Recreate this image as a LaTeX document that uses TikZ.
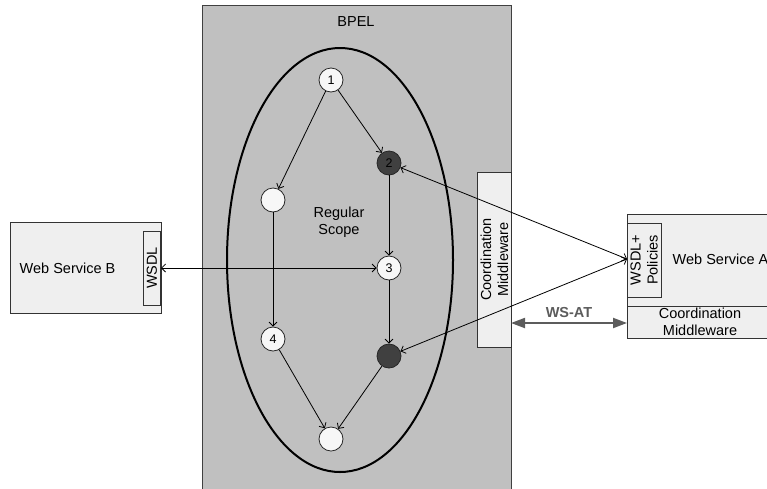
\documentclass[tikz,border=0pt]{standalone}
\usepackage{fontspec}
\setmainfont{Liberation Sans}
\usetikzlibrary{arrows.meta}
\definecolor{bpelgrey}{HTML}{C0C0C0}
\definecolor{boxgrey}{HTML}{EFEFEF}
\definecolor{actdark}{HTML}{404040}
\definecolor{atgrey}{HTML}{5C5C5C}
\begin{document}
\begin{tikzpicture}[x=1pt, y=-1pt, line width=0.8pt, font=\fontsize{14.5}{17}\selectfont,
  act/.style={circle, draw=black!85, fill=white!97!black, minimum size=24pt, inner sep=0pt, font=\fontsize{12.5}{14}\selectfont},
  darkact/.style={act, fill=actdark},
  flow/.style={-{Straight Barb[length=4pt,width=8pt]}},
  msg/.style={{Straight Barb[length=4pt,width=8pt]}-{Straight Barb[length=4pt,width=8pt]}},
  panel/.style={draw=black!80, fill=boxgrey, inner sep=0pt, align=center}]
\clip (0,0) rectangle (767,488);
% process and scope
\draw[fill=bpelgrey, draw=black!75] (202,5) rectangle (511,495);
\node (bpel) at (356,22) {BPEL};
\draw[line width=2pt] (340,260) ellipse [x radius=113pt, y radius=212pt];
\node[align=center] (scope) at (339,222) {Regular\\Scope};
\node[panel, rotate=90, minimum width=175pt, minimum height=34pt] (cm) at (494.5,259.5) {Coordination\\Middleware};
% activities
\node[act] (act1) at (331,80) {1};
\node[darkact] (act2) at (389,163) {2};
\node[act] (actL) at (273,200) {};
\node[act] (act3) at (389,268) {3};
\node[act] (act4) at (273,339) {4};
\node[darkact] (actD) at (389,356) {};
\node[act] (actE) at (331,439) {};
% web service B
\node[panel, minimum width=151pt, minimum height=91pt] (wsb) at (85.5,267.5) {};
\node[anchor=west] (wsbtext) at (16,268) {Web Service B};
\node[panel, rotate=90, minimum width=74pt, minimum height=17pt] (wsdlb) at (152,268) {WSDL};
% web service A
\node[panel, minimum width=146pt, minimum height=92pt] (wsa) at (700,260) {};
\node[panel, minimum width=146pt, minimum height=32pt] (cma) at (700,322) {Coordination\\Middleware};
\node[panel, rotate=90, minimum width=74pt, minimum height=34pt] (wsdla) at (644,260) {WSDL+\\Policies};
\node[anchor=west] (wsatext) at (669,259) {Web Service A};
\coordinate (bport) at (161,268);
\coordinate (aport) at (627,259);
\coordinate (atL) at (511,323);
\coordinate (atR) at (627,323);
% control flow
\draw[flow] (act1) -- (act2);
\draw[flow] (act1) -- (actL);
\draw[flow] (actL) -- (act4);
\draw[flow] (act2) -- (act3);
\draw[flow] (act3) -- (actD);
\draw[flow] (act4) -- (actE);
\draw[flow] (actD) -- (actE);
% messages
\draw[msg] (bport) -- (act3);
\draw[msg] (act2) -- (aport);
\draw[msg] (actD) -- (aport);
\draw[atgrey, line width=2pt, {Triangle[length=14pt,width=10pt]}-{Triangle[length=14pt,width=10pt]}] (atL) -- (atR);
\node[text=atgrey, font=\fontsize{14.5}{17}\selectfont\bfseries] (wsat) at (569,312) {WS-AT};
\end{tikzpicture}
\end{document}
